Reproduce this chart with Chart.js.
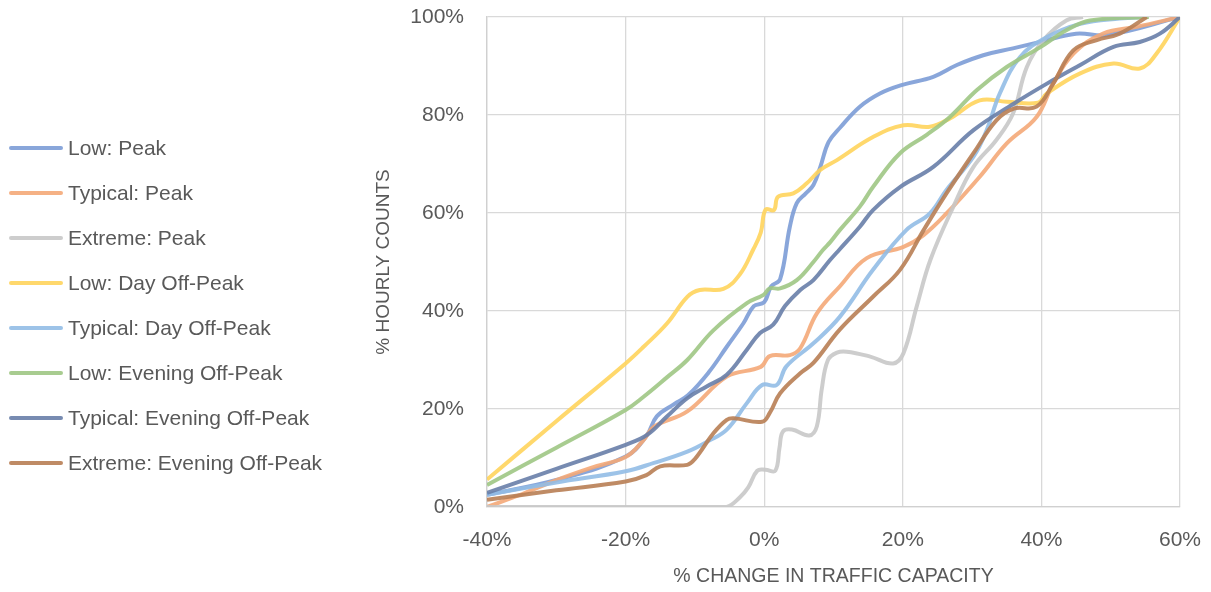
<!DOCTYPE html>
<html>
<head>
<meta charset="utf-8">
<script src="https://cdn.jsdelivr.net/npm/chart.js@4.4.0/dist/chart.umd.min.js"></script>
<style>
  html, body { margin: 0; padding: 0; background: #ffffff; }
  #wrap { position: relative; width: 1211px; height: 592px; }
  #chart { position: absolute; left: 0; top: 0; }
  #legend { position: absolute; left: 0; top: 0; font-family: "Liberation Sans", Arial, sans-serif; font-size: 21px; color: #595959; }
  .item { position: absolute; left: 0; height: 24px; white-space: nowrap; }
  .swatch { position: absolute; left: 9px; top: 10px; width: 54px; height: 3.5px; border-radius: 2px; }
  .label { position: absolute; left: 68px; top: 0; line-height: 24px; }
</style>
</head>
<body>
<div id="wrap">
  <canvas id="chart" width="1211" height="592"></canvas>
  <div id="legend"></div>
</div>
<script>
// Series names (legend order)
const seriesNames = [
  'Low: Peak', 'Typical: Peak', 'Extreme: Peak', 'Low: Day Off-Peak',
  'Typical: Day Off-Peak', 'Low: Evening Off-Peak', 'Typical: Evening Off-Peak',
  'Extreme: Evening Off-Peak'
];

// Axis ticks (percent)
const xTicks = [-40, -20, 0, 20, 40, 60];
const yTicks = [0, 20, 40, 60, 80, 100];

// x = % change in traffic capacity, y = cumulative % of hourly counts
const lowPeakX = [-40, -30, -20, -17, -15.5, -13, -11, -8, -5.4, -3, -1.5, 0, 1, 2.3, 3.7, 4.7, 6, 7.1, 8.1, 9.3, 11, 13.8, 16.7, 19.8, 24.4, 27.8, 31.6, 35.9, 39.8, 45, 49.5, 60];
const lowPeakY = [2.5, 5.5, 10.3, 14.5, 18.5, 21, 22.8, 27.5, 32.7, 37.5, 41, 41.8, 45, 46.5, 57.2, 62, 64, 65.7, 69.4, 74.5, 77.5, 81.7, 84.4, 86.1, 87.8, 90.2, 92.2, 93.6, 94.9, 96.6, 96.3, 100];

const typPeakX = [-40, -35, -30, -25, -20, -17.5, -15.9, -11.1, -5.4, -0.5, 0.8, 3.7, 5.2, 7.6, 10.9, 14.8, 20.1, 23, 26.3, 31.1, 35, 39.3, 41.7, 44.6, 48.9, 53.8, 60];
const typPeakY = [0, 2.6, 5.5, 8, 10.2, 13.5, 16.4, 19.5, 26.6, 28.6, 30.8, 31, 32.4, 39.5, 45, 50.8, 53.1, 55.5, 59.9, 67.4, 74.2, 79.6, 86.4, 92.5, 96.6, 98, 100];

const extPeakX = [-40, -20, -8, -5.4, -3.5, -2.3, -1, 0.2, 1.6, 2.2, 2.7, 4, 6.5, 7.6, 8.3, 9.2, 10.5, 11.9, 15.3, 18.6, 20.1, 22, 24, 27.3, 30.2, 33.5, 35.9, 37.9, 40.3, 43.6, 46];
const extPeakY = [0, 0, 0, 0, 2, 4, 7.4, 7.6, 7.4, 12, 15.4, 15.8, 14.6, 16.5, 24, 30, 31.5, 31.7, 30.7, 29.3, 31.4, 40.9, 50.5, 61.3, 69.4, 74.9, 80.3, 89.8, 95.3, 99.3, 100];

const lowDayX = [-40, -30, -20, -17.4, -14, -11.1, -9.3, -5.9, -3.5, -1.6, -0.5, 0.2, 1.4, 2, 4.2, 6.1, 8.1, 10.5, 15.7, 20.1, 23.9, 26.8, 31.1, 35, 39.5, 40.8, 45.6, 50.4, 54.2, 56.6, 60];
const lowDayY = [5.6, 17.5, 29.3, 32.7, 37.5, 42.9, 44.3, 44.5, 47.5, 52.5, 56, 60.7, 60.6, 63.3, 64, 66, 68.8, 70.8, 75.5, 77.9, 77.6, 79.3, 83, 82.7, 82.5, 84.4, 88.5, 90.5, 89.5, 92.5, 100];

const typDayX = [-40, -30, -20, -15.9, -11.1, -8, -5.4, -2.5, -0.3, 1.8, 3.2, 7.1, 10.9, 15.7, 20.5, 23.9, 26.3, 30.2, 32.1, 34, 36.9, 40.8, 45.6, 51.3, 55.2];
const typDayY = [2.5, 5, 7.3, 9, 11.3, 13.5, 15.8, 21.2, 24.9, 24.9, 28.7, 33.4, 38.8, 48.4, 56.5, 59.9, 64.7, 71.5, 76.9, 84.4, 91.8, 95.9, 98.6, 99.7, 100];

const lowEveX = [-40, -30, -20, -17.4, -14, -11.1, -7.3, -2.5, -0.1, 0.8, 2.3, 4.7, 7.1, 8.5, 9.5, 10.9, 13.8, 15.7, 19.6, 23.5, 26.8, 30.7, 35, 39.8, 43.6, 47, 55.5];
const lowEveY = [4.5, 12.1, 19.8, 22.5, 26.5, 30, 36.1, 41.6, 43.3, 44.6, 44.6, 46.3, 50, 52.5, 54, 56.5, 61.3, 65.3, 72.2, 76, 79.6, 85.1, 89.8, 93.8, 97.3, 99.3, 100];

const typEveX = [-40, -30, -20, -16.9, -14, -11.1, -8.3, -5.4, -2.5, -0.6, 1.3, 3, 5.2, 7.1, 9.5, 10.9, 13.8, 15.7, 19.6, 24.4, 30.2, 36, 40.8, 45.6, 50.4, 54.2, 57.1, 60];
const typEveY = [2.9, 7.8, 12.7, 14.7, 18.5, 22.2, 24.6, 27, 32.1, 35.5, 37.2, 41, 44.3, 46.3, 50.4, 52.6, 57.2, 60.6, 65.3, 69.4, 76.9, 82.3, 86.4, 90.2, 93.9, 94.9, 96.6, 100];

const extEveX = [-40, -30, -20, -17, -15, -11.1, -10, -7.3, -5.4, -4.4, -0.3, 0.8, 2.3, 5.2, 7.1, 10.9, 15.7, 19.6, 23, 26.3, 30.2, 33.5, 36, 39.3, 41.7, 44.6, 48, 51.3, 55.2];
const extEveY = [1.5, 3.4, 5.2, 6.5, 8.3, 8.6, 9.8, 15.1, 17.8, 18.1, 17.4, 19.2, 23.2, 27.3, 29.4, 36.2, 42.9, 48.4, 56.5, 64, 72.2, 78.9, 81.3, 81.7, 86.4, 93.2, 95.3, 96.6, 100];

const seriesX = [lowPeakX, typPeakX, extPeakX, lowDayX, typDayX, lowEveX, typEveX, extEveX];
const seriesY = [lowPeakY, typPeakY, extPeakY, lowDayY, typDayY, lowEveY, typEveY, extEveY];

const lineColors = [
  'rgba(124,156,214,0.9)', 'rgba(244,168,120,0.9)', 'rgba(200,200,200,0.9)', 'rgba(255,212,92,0.9)',
  'rgba(146,189,230,0.9)', 'rgba(158,199,132,0.9)', 'rgba(104,126,168,0.9)', 'rgba(184,126,84,0.9)'
];

const datasets = seriesNames.map((name, i) => ({
  label: name,
  data: seriesX[i].map((x, k) => ({ x: x, y: seriesY[i][k] })),
  showLine: true,
  borderColor: lineColors[i],
  backgroundColor: lineColors[i],
  borderWidth: 4,
  pointRadius: 0,
  pointHoverRadius: 0,
  tension: 0.4,
  fill: false,
  order: seriesNames.length - i   // later series sit on top
}));

const textColor = '#595959';
const fontFamily = '"Liberation Sans", Arial, sans-serif';

new Chart(document.getElementById('chart'), {
  type: 'scatter',
  data: { datasets },
  options: {
    responsive: false,
    animation: false,
    devicePixelRatio: 1,
    layout: { padding: { left: 368, right: 31, top: 17, bottom: 0 } },
    plugins: { legend: { display: false }, tooltip: { enabled: false } },
    scales: {
      x: {
        type: 'linear',
        min: xTicks[0],
        max: xTicks[xTicks.length - 1],
        afterBuildTicks: s => { s.ticks = xTicks.map(v => ({ value: v })); },
        afterFit: s => { s.height = 85; s.paddingLeft = 0; s.paddingRight = 0; },
        grid: { color: '#d9d9d9', lineWidth: 1.3, drawTicks: false },
        border: { color: '#d0d0d0', width: 1.3 },
        ticks: {
          padding: 21,
          color: textColor,
          font: { family: fontFamily, size: 21 },
          callback: v => v + '%'
        },
        title: {
          display: true,
          text: '% CHANGE IN TRAFFIC CAPACITY',
          color: textColor,
          font: { family: fontFamily, size: 19.5 },
          padding: { top: 4, bottom: 4 }
        }
      },
      y: {
        type: 'linear',
        min: yTicks[0],
        max: yTicks[yTicks.length - 1],
        afterBuildTicks: s => { s.ticks = yTicks.map(v => ({ value: v })); },
        afterFit: s => { s.width = 119; s.paddingTop = 0; s.paddingBottom = 0; },
        grid: { color: '#d9d9d9', lineWidth: 1.3, drawTicks: false },
        border: { color: '#d0d0d0', width: 1.3 },
        ticks: {
          padding: 23,
          color: textColor,
          font: { family: fontFamily, size: 21 },
          callback: v => v + '%'
        },
        title: {
          display: true,
          text: '% HOURLY COUNTS',
          color: textColor,
          font: { family: fontFamily, size: 19 },
          padding: { top: 4, bottom: 4 }
        }
      }
    }
  }
});

// Legend beside the plot, one row per series
const legend = document.getElementById('legend');
seriesNames.forEach((name, i) => {
  const item = document.createElement('div');
  item.className = 'item';
  item.style.top = (148 + 45 * i - 12) + 'px';
  const sw = document.createElement('div');
  sw.className = 'swatch';
  sw.style.background = lineColors[i];
  const lb = document.createElement('span');
  lb.className = 'label';
  lb.textContent = name;
  item.appendChild(sw);
  item.appendChild(lb);
  legend.appendChild(item);
});
</script>
</body>
</html>
